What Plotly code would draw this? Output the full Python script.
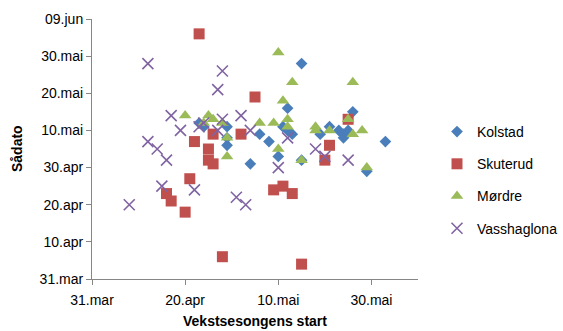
import plotly.graph_objects as go

# Days after 31 March (0 = 31.mar)
kolstad_x = [45, 42, 56, 63, 36, 38, 29, 23, 24, 29, 34, 40, 41, 42, 43, 45, 51, 49, 53, 54, 55, 54, 59, 29]
kolstad_y = [58, 46, 45, 37, 39, 37, 36, 42, 41, 41, 31, 33, 41, 40, 39, 32, 41, 39, 40, 39, 40, 38, 29, 38]

skuterud_x = [23, 35, 22, 26, 32, 25, 25, 26, 21, 20, 16, 17, 28, 39, 41, 43, 45, 50, 51, 55]
skuterud_y = [66, 49, 37, 39, 39, 35, 32, 31, 27, 18, 23, 21, 6, 24, 25, 23, 4, 32, 36, 43]

mordre_x = [40, 43, 56, 41, 20, 25, 24, 28, 29, 29, 36, 39, 42, 42, 40, 48, 48, 51, 55, 56, 58, 45, 59, 26]
mordre_y = [61, 53, 53, 48, 44, 44, 42, 42, 38, 33, 42, 42, 43, 41, 35, 41, 40, 40, 43, 39, 40, 32, 30, 43]

vass_x = [12, 8, 17, 19, 12, 14, 16, 15, 22, 28, 27, 32, 28, 24, 23, 27, 34, 40, 31, 33, 42, 48, 50, 55]
vass_y = [58, 20, 44, 40, 37, 35, 32, 25, 24, 56, 51, 44, 43, 42, 41, 40, 40, 30, 22, 20, 38, 35, 33, 32]

x_tickvals = [0, 20, 40, 60]
x_ticktext = ["31.mar", "20.apr", "10.mai", "30.mai"]
y_tickvals = [0, 10, 20, 30, 40, 50, 60, 70]
y_ticktext = ["31.mar", "10.apr", "20.apr", "30.apr", "10.mai", "20.mai", "30.mai", "09.jun"]

FONT = "Liberation Sans"
AX = "#868686"

fig = go.Figure()
fig.add_trace(go.Scatter(x=kolstad_x, y=kolstad_y, mode="markers", name="Kolstad", legendgroup="a",
                         marker=dict(symbol="diamond", size=9, color="#4A7EBB", line=dict(width=0))))
fig.add_trace(go.Scatter(x=skuterud_x, y=skuterud_y, mode="markers", name="Skuterud", legendgroup="b",
                         marker=dict(symbol="square", size=11, color="#C0504D", line=dict(width=0))))
fig.add_trace(go.Scatter(x=mordre_x, y=mordre_y, mode="markers", name="Mørdre", legendgroup="c",
                         marker=dict(symbol="triangle-up", size=11, color="#9BBB59", line=dict(width=0))))
fig.add_trace(go.Scatter(x=vass_x, y=vass_y, mode="markers", name="Vasshaglona", legendgroup="d",
                         marker=dict(symbol="x-thin", size=11, color="#8064A2", line=dict(width=1.6, color="#8064A2"))))

W, H = 563, 331
L, R, T, B = 92, 145, 19, 52
pw = W - L - R
ph = H - T - B

fig.update_layout(
    width=W, height=H,
    margin=dict(l=L, r=R, t=T, b=B, autoexpand=False),
    paper_bgcolor="white", plot_bgcolor="white",
    font=dict(family=FONT, size=14, color="#000000"),
    showlegend=True,
    legend=dict(x=(437 - L) / pw, xanchor="left", y=(H - B - 116) / ph, yanchor="top",
                font=dict(family=FONT, size=14, color="#000000"),
                tracegroupgap=11, bgcolor="rgba(0,0,0,0)"),
    xaxis=dict(range=[0, 70], tickvals=x_tickvals, ticktext=x_ticktext,
               showline=True, linecolor=AX, linewidth=1, ticks="outside", ticklen=5,
               tickcolor=AX, showgrid=False, zeroline=False, fixedrange=True,
               ticklabelstandoff=3,
               tickfont=dict(family=FONT, size=14, color="#000000")),
    yaxis=dict(range=[0, 70], tickvals=y_tickvals, ticktext=y_ticktext,
               showline=True, linecolor=AX, linewidth=1, ticks="outside", ticklen=5,
               tickcolor=AX, showgrid=False, zeroline=False, fixedrange=True,
               tickfont=dict(family=FONT, size=14, color="#000000")),
    annotations=[
        dict(text="<b>Sådato</b>", xref="paper", yref="paper", x=(17 - L) / pw, y=0.5,
             textangle=-90, showarrow=False, xanchor="center", yanchor="middle",
             font=dict(family=FONT, size=14, color="#000000")),
        dict(text="<b>Vekstsesongens start</b>", xref="paper", yref="paper", x=0.5,
             y=-(321 - (H - B)) / ph, showarrow=False, xanchor="center", yanchor="middle",
             font=dict(family=FONT, size=14, color="#000000")),
    ],
)

fig.write_html("out.html")
